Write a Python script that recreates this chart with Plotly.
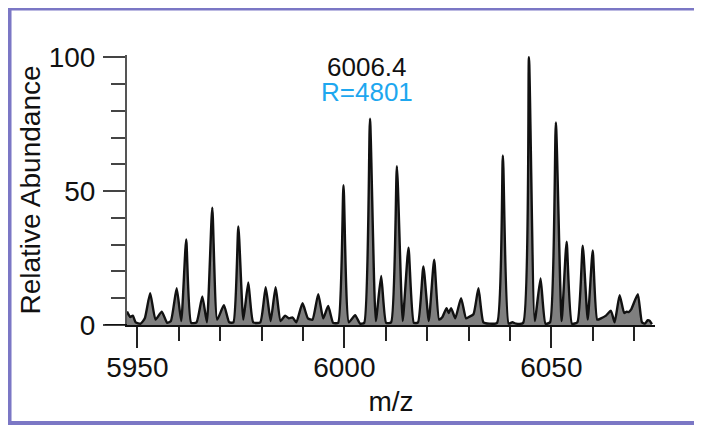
import plotly.graph_objects as go

# Profile of the mass spectrum (m/z, relative abundance)
mz = [5947.5, 5948.3, 5948.9, 5949.6, 5950.8, 5951.8, 5953.1, 5954.4, 5955.9, 5957.2,
      5958.1, 5959.5, 5960.6, 5961.8, 5963.0, 5964.3, 5965.7, 5966.8, 5968.1, 5969.3,
      5970.9, 5972.2, 5973.2, 5974.4, 5975.6, 5976.8, 5978.0, 5979.7, 5981.0, 5982.2,
      5983.4, 5984.6, 5985.7, 5986.6, 5987.5, 5988.4, 5989.9, 5991.2, 5992.3, 5993.7,
      5994.9, 5996.1, 5997.3, 5998.5, 5999.8, 6001.1, 6002.6, 6003.8, 6004.8, 6006.2,
      6007.6, 6008.9, 6010.1, 6011.3, 6012.7, 6014.1, 6015.5, 6016.8, 6017.8, 6019.1,
      6020.4, 6021.7, 6022.9, 6023.7, 6024.7, 6025.2, 6025.8, 6026.8, 6028.2, 6029.4,
      6030.1, 6031.2, 6032.4, 6033.6, 6035.0, 6036.9, 6038.3, 6039.7, 6040.6, 6041.5,
      6043.2, 6044.6, 6046.0, 6047.4, 6048.6, 6049.7, 6051.1, 6052.5, 6053.7, 6055.0,
      6056.3, 6057.6, 6058.8, 6060.0, 6061.1, 6062.0, 6063.2, 6064.4, 6065.3, 6066.5,
      6067.6, 6068.2, 6068.7, 6069.3, 6070.9, 6071.9, 6072.6, 6073.3, 6073.8, 6074.3]
abundance = [5.0, 3.0, 3.5, 1.0, 0.5, 2.5, 11.9, 2.0, 5.0, 0.8,
             1.5, 13.7, 1.5, 31.9, 0.8, 1.0, 10.7, 1.0, 43.8, 2.0,
             7.4, 1.0, 1.0, 36.8, 2.0, 15.9, 1.0, 1.0, 14.1, 1.5,
             14.1, 1.5, 3.5, 2.5, 2.8, 1.0, 8.1, 2.5, 2.0, 11.5,
             2.5, 7.1, 0.8, 0.8, 52.2, 1.0, 3.7, 0.5, 0.8, 77.0,
             1.5, 18.3, 0.8, 1.0, 59.3, 1.5, 28.9, 0.8, 1.0, 21.9,
             1.5, 24.4, 2.0, 3.0, 6.3, 4.5, 6.3, 2.5, 10.0, 2.5,
             3.0, 4.0, 13.7, 1.0, 0.5, 0.8, 63.3, 0.5, 1.0, 0.5,
             0.8, 100.0, 1.5, 17.4, 0.5, 1.0, 75.6, 1.5, 31.1, 0.5,
             1.0, 29.6, 2.0, 27.8, 2.0, 2.5, 3.5, 5.3, 1.0, 11.1,
             4.5, 5.0, 4.8, 5.8, 11.5, 1.0, 0.5, 1.8, 1.5, 0.3]

peak_label = "6006.4"
resolution_label = "R=4801"
label_mz = 6005.5

FONT = "Liberation Sans, Arial, sans-serif"

fig = go.Figure()
fig.add_trace(go.Scatter(
    x=mz, y=abundance, mode="lines",
    line=dict(color="#111111", width=2.4, shape="spline", smoothing=0.5),
    fill="tozeroy", fillcolor="#7f7f7f",
    hoverinfo="x+y", showlegend=False,
))

fig.add_annotation(x=label_mz, y=96.2, xref="x", yref="y", text=peak_label,
                   showarrow=False, font=dict(family=FONT, size=26, color="#111111"))
fig.add_annotation(x=label_mz, y=87.0, xref="x", yref="y", text=resolution_label,
                   showarrow=False, font=dict(family=FONT, size=26, color="#1ea7ef"))

# x-axis line extension to the left of the y-axis
fig.add_shape(type="line", xref="paper", yref="y", x0=-0.042, x1=0, y0=0, y1=0,
              line=dict(color="#111111", width=2))

# purple frame (open on the right)
frame = "#7b77c5"
fig.add_shape(type="line", xref="paper", yref="paper", x0=-0.2225, x1=1.104, y0=1.172, y1=1.172,
              line=dict(color=frame, width=4))
fig.add_shape(type="line", xref="paper", yref="paper", x0=-0.2225, x1=1.104, y0=-0.363, y1=-0.363,
              line=dict(color=frame, width=4))
fig.add_shape(type="line", xref="paper", yref="paper", x0=-0.2225, x1=-0.2225, y0=-0.37, y1=1.18,
              line=dict(color=frame, width=4))

fig.update_layout(
    width=702, height=425,
    margin=dict(l=119, r=55, t=47, b=108, autoexpand=False),
    paper_bgcolor="white", plot_bgcolor="white",
    font=dict(family=FONT, color="#111111"),
    xaxis=dict(
        range=[5947.5, 6075.05], tick0=5950, dtick=50,
        ticks="outside", ticklen=21, tickwidth=1.5, tickcolor="#222222",
        minor=dict(dtick=10, tick0=5950, ticks="outside", ticklen=14, tickwidth=1.5, tickcolor="#222222"),
        showline=True, linecolor="#111111", linewidth=2,
        showgrid=False, zeroline=False, automargin=False,
        tickfont=dict(family=FONT, size=28, color="#111111"),
        ticklabelstandoff=-5,
        title=dict(text="m/z", font=dict(family=FONT, size=28, color="#111111"), standoff=10),
    ),
    yaxis=dict(
        range=[0, 100.8], tick0=0, dtick=50,
        ticks="outside", ticklen=22, tickwidth=1.5, tickcolor="#444444",
        minor=dict(dtick=10, tick0=0, ticks="outside", ticklen=14, tickwidth=1.5, tickcolor="#444444"),
        showline=True, linecolor="#555555", linewidth=2,
        showgrid=False, zeroline=False, automargin=False,
        tickfont=dict(family=FONT, size=28, color="#111111"),
        ticklabelstandoff=2,
        title=dict(text="Relative Abundance", font=dict(family=FONT, size=28, color="#111111"), standoff=0),
    ),
)

fig.write_html("out.html")
